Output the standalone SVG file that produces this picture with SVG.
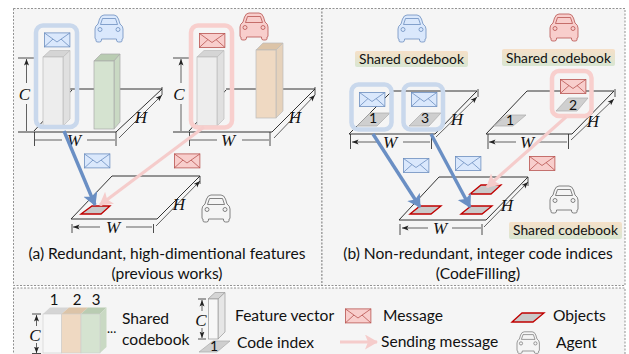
<svg xmlns="http://www.w3.org/2000/svg" width="629" height="354" viewBox="0 0 629 354">
<style>
.panel{fill:#f5f5f5;stroke:#777;stroke-width:.8;stroke-dasharray:2 1.5}
.plane{fill:none;stroke:#333;stroke-width:1}
.dim{fill:none;stroke:#222;stroke-width:.7;marker-start:url(#dimA);marker-end:url(#dimA)}
.tick{fill:none;stroke:#222;stroke-width:.8}
.t{font-family:Lato,"Noto Sans",sans-serif;fill:#111}
.cap{font-size:15.6px;text-anchor:middle}
.leg{font-size:15.6px}
.sc{font-size:13.8px;text-anchor:middle}
.num{font-size:14px;text-anchor:middle}
.v{font-family:"Liberation Serif",serif;font-style:italic;font-size:17px;text-anchor:middle;fill:#111}
.cb{fill:#dae8fc;stroke:#6c8ebf;color:#6c8ebf}
.cr{fill:#f8cecc;stroke:#b85450;color:#b85450}
.cg{fill:#f5f5f5;stroke:#666;color:#666}
.hb{fill:none;stroke:#c9d8ec;stroke-width:4.5}
.hr{fill:none;stroke:#f8cfcd;stroke-width:4.5}
.code{fill:#cfcfcf;stroke:#aaa;stroke-width:.7}
.obj{fill:#c9c9c9;stroke:#c00000;stroke-width:1.3}
.ab{fill:none;stroke:#6a8fc4;stroke-width:3.4;marker-end:url(#headB)}
.ar{fill:none;stroke:#f5cccb;stroke-width:3.2;marker-end:url(#headR)}
.sc-bg{fill:url(#sbg)}
</style>
<defs>
<linearGradient id="sbg" x1="0" y1="0" x2="0" y2="1"><stop offset="0" stop-color="#f6e0c8"/><stop offset="1" stop-color="#d8e6d2"/></linearGradient>
<marker id="dimA" markerWidth="7" markerHeight="6" refX="6.5" refY="3" orient="auto-start-reverse" markerUnits="userSpaceOnUse"><path d="M0 .5L6.5 3L0 5.500L1.500 3Z" fill="#222"/></marker>
<marker id="headB" markerWidth="16" markerHeight="16" refX="12" refY="7.500" orient="auto" markerUnits="userSpaceOnUse"><path d="M0 0L13 7.500L0 15L3 7.500Z" fill="#6a8fc4"/></marker>
<marker id="headR" markerWidth="16" markerHeight="16" refX="12" refY="7.500" orient="auto" markerUnits="userSpaceOnUse"><path d="M0 0L13 7.500L0 15L3 7.500Z" fill="#f5cccb"/></marker>
<g id="car"><path d="M9 1H19Q22 1 23.500 5L25 10Q28 12 28 15V24Q28 25 27 25V27Q27 28 25 28H23.500Q21.500 28 21.500 26V25H6.500V26Q6.500 28 4.500 28H3Q1 28 1 27V25Q0 25 0 24V15Q0 12 3 10L4.500 5Q6 1 9 1Z" stroke-width=".8"/><path d="M7.500 4.500H20.500L22.500 10.500H5.500Z" fill="none" stroke-width=".8"/><circle cx="5" cy="15.500" r="2" fill="none" stroke-width=".8"/><circle cx="23" cy="15.500" r="2" fill="none" stroke-width=".8"/></g>
<g id="env"><rect x=".4" y=".4" width="25.500" height="14" stroke-width=".8"/><path d="M.4.4L13 9.500L25.900.4M.4 14.400L9 6.500M25.900 14.400L17 6.500" fill="none" stroke-width=".8"/></g>
</defs>

<rect width="629" height="354" fill="#fff"/>
<rect id="panel-a" class="panel" x="13.500" y="8.500" width="308.500" height="277"/>
<rect id="panel-b" class="panel" x="322" y="8.500" width="303" height="277"/>
<rect id="panel-legend" class="panel" x="13.500" y="288" width="611.500" height="70"/>

<g id="plane-a1">
<path class="plane" d="M18 132H116M70 89H162M34 131L72 90M116 132L162 89"/>
<path class="tick" d="M18 58H34M34.500 132V146M116 132V146M162 87V95"/>
<path class="dim" d="M26.500 59V83M26.500 104V131M35 140H62M87 140H115M119 138L162 95"/>
<text class="v" x="24.500" y="100">C</text><text class="v" x="74" y="146">W</text><text class="v" x="141" y="123">H</text>
</g>
<g id="plane-a2">
<path class="plane" d="M173 132H272M226 89H315M189 131L226 90M272 132L315 89"/>
<path class="tick" d="M173 58H189M189.500 132V146M270 132V146M315 87V95"/>
<path class="dim" d="M181 59V83M181 104V131M190 140H217M242 140H269M274 138L315 95"/>
<text class="v" x="179" y="100">C</text><text class="v" x="228" y="146">W</text><text class="v" x="295" y="123">H</text>
</g>

<g id="feature-a1-gray">
<path d="M43 57L50 50.500H70L63 57Z" fill="#d5d5d5" stroke="#bbb" stroke-width=".7"/><path d="M63 57L70 50.500V119L63 126Z" fill="#e0e0e0" stroke="#bbb" stroke-width=".7"/><rect x="43" y="57" width="20" height="69" fill="#ededed" stroke="#bbb" stroke-width=".7"/>
</g>
<g id="feature-a1-green">
<path d="M94 61L101 54H120L114 61Z" fill="#b9ccb2" stroke="#aaa" stroke-width=".7"/><path d="M114 61L120 54V122L114 129Z" fill="#c9d9c3" stroke="#aaa" stroke-width=".7"/><rect x="94" y="61" width="20" height="68" fill="#d5e3d0" stroke="#aaa" stroke-width=".7"/>
</g>
<g id="feature-a2-gray">
<path d="M197 57L204 50.500H224L217 57Z" fill="#d5d5d5" stroke="#bbb" stroke-width=".7"/><path d="M217 57L224 50.500V119L217 126Z" fill="#e0e0e0" stroke="#bbb" stroke-width=".7"/><rect x="197" y="57" width="20" height="69" fill="#ededed" stroke="#bbb" stroke-width=".7"/>
</g>
<g id="feature-a2-orange">
<path d="M256 50L263 43H283L276 50Z" fill="#dcc4a8" stroke="#bbb" stroke-width=".7"/><path d="M276 50L283 43V111L276 118Z" fill="#e6d2bb" stroke="#bbb" stroke-width=".7"/><rect x="256" y="50" width="20" height="68" fill="#efd9c2" stroke="#bbb" stroke-width=".7"/>
</g>
<g id="highlight-a">
<rect class="hb" x="36" y="25.500" width="41" height="101.500" rx="7"/>
<rect class="hr" x="191" y="25.500" width="41" height="102" rx="7"/>
</g>
<use href="#env" class="cb" x="44" y="32.500"/>
<use href="#env" class="cr" x="199" y="33"/>
<g id="car-a-blue"><use href="#car" class="cb" x="95" y="14"/></g>
<g id="car-a-red"><use href="#car" class="cr" x="240" y="12"/></g>

<g id="plane-a3">
<path class="plane" d="M71 219H157L200 176H112Z"/>
<path class="tick" d="M72 224V233M153.500 224V233M200 176V184"/>
<path class="dim" d="M73 227H100M126 227H152M156 226L200 181"/>
<text class="v" x="113" y="233">W</text><text class="v" x="179" y="210">H</text>
<path class="obj" d="M81 214L92 206H110L101 214Z"/>
</g>
<g id="car-a-gray"><use href="#car" class="cg" x="202" y="194"/></g>

<g id="plane-b1">
<path class="plane" d="M349 134H435M392 91H477M349 134L392 91M435 134L477 91"/>
<path class="tick" d="M350.500 134V149M431.500 134V149M478 89V97"/>
<path class="dim" d="M352 142H379M403 142H430M436 137L477 97"/>
<text class="v" x="390" y="148">W</text><text class="v" x="457" y="125">H</text>
<path class="code" d="M357 126L370 113H390L377 126Z"/><text class="t num" x="373" y="123">1</text>
<path class="code" d="M409 126L422 113H441L429 126Z"/><text class="t num" x="425" y="123">3</text>
</g>
<g id="plane-b2">
<path class="plane" d="M486 134H572M527 91H614M486 134L527 91M572 134L614 91"/>
<path class="tick" d="M488 134V149M568.500 134V149M615 89V97"/>
<path class="dim" d="M489 142H516M539 142H567M571 140L614 99"/>
<text class="v" x="527" y="148">W</text><text class="v" x="593" y="127">H</text>
<path class="code" d="M494 126L507 115H526L513 126Z"/><text class="t num" x="510" y="125">1</text>
<path class="code" d="M556 111L568 98H588L577 111Z"/><text class="t num" x="573" y="110">2</text>
</g>
<g id="highlight-b">
<rect class="hb" x="351.500" y="84.500" width="40" height="45" rx="7"/>
<rect class="hb" x="403.500" y="84.500" width="39.500" height="45" rx="7"/>
<rect class="hr" x="552" y="71" width="39.500" height="45" rx="7"/>
</g>
<use href="#env" class="cb" x="359" y="92"/>
<use href="#env" class="cb" x="411" y="92"/>
<use href="#env" class="cr" x="560" y="79"/>
<g id="car-b-blue"><use href="#car" class="cb" x="398" y="14"/></g>
<g id="car-b-red"><use href="#car" class="cr" x="550" y="13"/></g>
<g id="codebook-b1"><rect class="sc-bg" x="355" y="51" width="113" height="16" rx="2"/><text class="t sc" x="411.500" y="64">Shared codebook</text></g>
<g id="codebook-b2"><rect class="sc-bg" x="502" y="49" width="113" height="17" rx="2"/><text class="t sc" x="558.500" y="62.500">Shared codebook</text></g>
<g id="codebook-b3"><rect class="sc-bg" x="509" y="222" width="113" height="17" rx="2"/><text class="t sc" x="565.500" y="235">Shared codebook</text></g>

<g id="plane-b3">
<path class="plane" d="M399 220H486L528 177H439Z"/>
<path class="tick" d="M400 224V235M482 224V235M528 177V186"/>
<path class="dim" d="M402 228H428M452 228H481M484 227L528 182"/>
<text class="v" x="440" y="234">W</text><text class="v" x="507" y="211">H</text>
<path class="obj" d="M410 214L420 206H441L431 214Z"/>
<path class="obj" d="M461 214L471 206H492L482 214Z"/>
<path class="obj" d="M470 194L481 185H501L491 194Z"/>
</g>
<g id="car-b-gray"><use href="#car" class="cg" x="550" y="185"/></g>

<g id="connectors">
<path class="ab" d="M64 131L95 205"/>
<path class="ar" d="M204 127L100 205"/>
<path class="ab" d="M373 134L420 207"/>
<path class="ab" d="M431 134L470 207"/>
<path class="ar" d="M566 117L487 187"/>
</g>
<use href="#env" class="cb" x="84" y="153.500"/>
<use href="#env" class="cr" x="174" y="153.500"/>
<use href="#env" class="cb" x="403" y="158"/>
<use href="#env" class="cb" x="455" y="156"/>
<use href="#env" class="cr" x="529" y="156"/>

<text class="t cap" x="167" y="259">(a) Redundant, high-dimentional features</text>
<text class="t cap" x="167" y="279">(previous works)</text>
<text class="t cap" x="478" y="259">(b) Non-redundant, integer code indices</text>
<text class="t cap" x="478" y="279">(CodeFilling)</text>

<g id="legend-codebook">
<path d="M43 314L50 307.500H69L61.500 314Z" fill="#d5d5d5"/><path d="M61.500 314L69 307.500H88L81 314Z" fill="#dcc4a8"/><path d="M81 314L88 307.500H106.500L100 314Z" fill="#b9ccb2"/><path d="M100 314L106.500 307.500V347L100 353Z" fill="#c9d9c3"/>
<rect x="43" y="314" width="18.500" height="39" fill="#f7f7f7" stroke="#ccc" stroke-width=".6"/><rect x="61.500" y="314" width="19.500" height="39" fill="#efd9c2" stroke="#ccc" stroke-width=".6"/><rect x="81" y="314" width="19" height="39" fill="#d5e3d0" stroke="#ccc" stroke-width=".6"/>
<path class="tick" d="M32 314H41M32 353.500H41"/><path class="dim" d="M36.500 315V326M36.500 343V353"/>
<text class="v" x="35" y="341">C</text>
<text class="t num" x="54" y="305" style="font-size:15px">1</text><text class="t num" x="77" y="305" style="font-size:15px">2</text><text class="t num" x="96" y="305" style="font-size:15px">3</text>
<text class="t" x="107" y="333" font-size="13">...</text>
<text class="t leg" x="122" y="324">Shared</text><text class="t leg" x="122" y="345">codebook</text>
</g>
<g id="legend-feature">
<path d="M208 299L215 292.500H225L218 299Z" fill="#d5d5d5" stroke="#999" stroke-width=".7"/><path d="M218 299L225 292.500V332L218 339Z" fill="#e6e6e6" stroke="#999" stroke-width=".7"/><rect x="208.500" y="299" width="9.500" height="40" fill="#f7f7f7" stroke="#999" stroke-width=".7"/>
<path class="tick" d="M198 299H206M198 339H206"/><path class="dim" d="M202 300V311M202 328V338"/>
<text class="v" x="201" y="326">C</text>
<text class="t leg" x="235" y="321">Feature vector</text>
</g>
<g id="legend-code">
<path class="code" d="M199 352L213 341H230L217 352Z"/><text class="t num" x="214" y="351">1</text>
<text class="t leg" x="237" y="348">Code index</text>
</g>
<g id="legend-message">
<use href="#env" class="cr" x="345" y="308.500"/>
<text class="t leg" x="383" y="321">Message</text>
</g>
<g id="legend-sending">
<path class="ar" d="M340 342H377"/>
<text class="t leg" x="381" y="347">Sending message</text>
</g>
<g id="legend-objects">
<path class="obj" d="M512 322L522 313H544L533 322Z"/>
<text class="t leg" x="553" y="321">Objects</text>
</g>
<g id="legend-agent">
<use href="#car" class="cg" transform="translate(517 331) scale(.8)"/>
<text class="t leg" x="556" y="348">Agent</text>
</g>
</svg>
